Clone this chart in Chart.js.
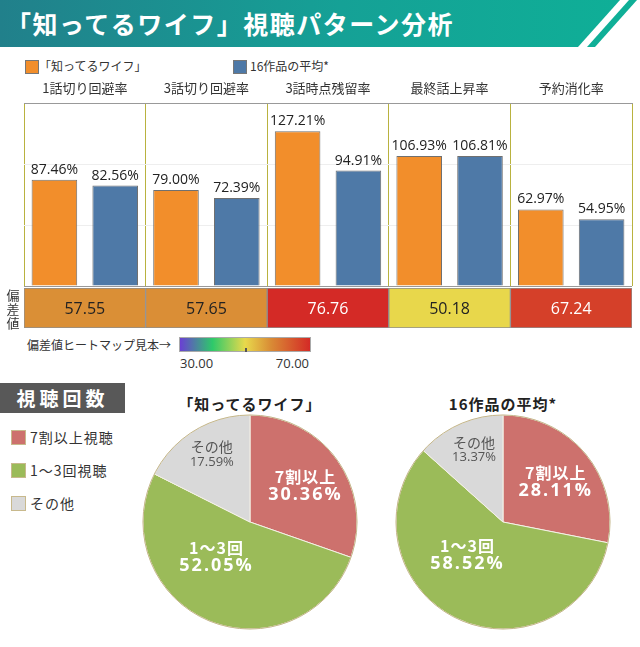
<!DOCTYPE html>
<html lang="ja">
<head>
<meta charset="utf-8">
<title>「知ってるワイフ」視聴パターン分析</title>
<script src="https://cdn.jsdelivr.net/npm/chart.js@4.4.1/dist/chart.umd.min.js"></script>
<style>
  body { margin: 0; background: #fff; font-family: "Noto Sans CJK JP", "Noto Sans", sans-serif; color: #333; }
  #page { position: relative; width: 640px; height: 647px; overflow: hidden; background: #fff; }
  .abs { position: absolute; }
  #banner { left: 0; top: 0; width: 640px; height: 47px; }
  #title { left: 6px; top: 0; line-height: 47px; font-size: 25px; font-weight: bold; color: #fff; letter-spacing: 1.5px; white-space: nowrap; }
  .sw { width: 12px; height: 12px; border: 1px solid #777; }
  .lg { font-size: 12px; line-height: 14px; white-space: nowrap; color: #333; }
  .vert { left: 6px; width: 14px; font-size: 13px; line-height: 14px; text-align: center; color: #333; }
  #heatBar { left: 179px; top: 337px; width: 130px; height: 13px; border: 1px solid #aaa; }
  #heatTick { left: 245px; top: 348px; width: 2px; height: 4px; background: #555; }
  .ht { font-size: 13px; line-height: 14px; color: #333; font-family: "Open Sans", "Noto Sans", sans-serif; }
  #sect { left: 0; top: 383px; width: 125px; height: 30px; background: #585858; color: #fff; font-size: 19px; font-weight: bold; line-height: 30px; text-align: center; letter-spacing: 4px; }
  .psw { width: 13px; height: 13px; border: 1px solid #c8b98c; }
  .plg { font-size: 14px; line-height: 16px; color: #333; white-space: nowrap; letter-spacing: 1px; }
  .ptitle { top: 394px; width: 220px; text-align: center; font-size: 15px; font-weight: bold; color: #222; letter-spacing: 1px; line-height: 20px; }
</style>
</head>
<body>
<div id="page">
  <svg id="banner" class="abs" width="640" height="47">
    <defs>
      <linearGradient id="bg" x1="0" x2="1" y1="0" y2="0">
        <stop offset="0" stop-color="#21808b"/>
        <stop offset="0.55" stop-color="#15a196"/>
        <stop offset="1" stop-color="#0faf97"/>
      </linearGradient>
    </defs>
    <polygon points="0,0 620,0 578,47 0,47" fill="url(#bg)"/>
    <polygon points="629,0 637,0 595,47 587,47" fill="#0faf97"/>
  </svg>
  <div id="title" class="abs">「知ってるワイフ」視聴パターン分析</div>

  <div class="abs sw" style="left:25px;top:60px;background:#f28e2b"></div>
  <div class="abs lg" style="left:39px;top:59px">「知ってるワイフ」</div>
  <div class="abs sw" style="left:233px;top:60px;background:#4e79a7"></div>
  <div class="abs lg" style="left:250px;top:59px">16作品の平均*</div>

  <canvas id="bars" class="abs" width="640" height="216" style="left:0;top:72px"></canvas>
  <canvas id="heat" class="abs" width="640" height="40" style="left:0;top:288px"></canvas>
  <div class="abs vert" style="top:288px">偏<br>差<br>値</div>

  <div class="abs lg" style="left:27px;top:338px;font-size:12px">偏差値ヒートマップ見本→</div>
  <div id="heatBar" class="abs"></div>
  <div id="heatTick" class="abs"></div>
  <div class="abs ht" id="heatMin" style="left:180px;top:356px"></div>
  <div class="abs ht" id="heatMax" style="left:260px;top:356px;width:49px;text-align:right"></div>

  <div id="sect" class="abs">視聴回数</div>
  <div id="pieLegend"></div>

  <div class="abs ptitle" style="left:140px">「知ってるワイフ」</div>
  <div class="abs ptitle" style="left:393px">16作品の平均*</div>
  <canvas id="pieWife" class="abs" width="230" height="230" style="left:135px;top:407px"></canvas>
  <canvas id="pieAvg" class="abs" width="230" height="230" style="left:388px;top:407px"></canvas>
</div>

<script>
const categories = ["1話切り回避率", "3話切り回避率", "3話時点残留率", "最終話上昇率", "予約消化率"];
const wifeRates = [87.46, 79.0, 127.21, 106.93, 62.97];
const avgRates = [82.56, 72.39, 94.91, 106.81, 54.95];
const deviation = [57.55, 57.65, 76.76, 50.18, 67.24];
const heatRange = [30, 70];

const viewLegend = ["7割以上視聴", "1～3回視聴", "その他"];
const sliceNames = ["7割以上", "1～3回", "その他"];
const wifeShare = [30.36, 52.05, 17.59];
const avgShare = [28.11, 58.52, 13.37];

const NUM_FONT = '"Open Sans", "Noto Sans", sans-serif';
const JP_FONT = '"Noto Sans CJK JP", "Noto Sans", sans-serif';
const sliceColors = ["#cd716d", "#9bbb59", "#d9d9d9"];

// colour stops of the deviation heat map (value -> colour)
const heatStops = [
  [30, [106, 63, 211]],
  [40, [46, 201, 106]],
  [50, [232, 217, 76]],
  [58, [217, 139, 53]],
  [70, [212, 42, 38]],
];

function heatColor(v) {
  if (v <= heatStops[0][0]) return "rgb(" + heatStops[0][1].join(",") + ")";
  for (let i = 1; i < heatStops.length; i++) {
    if (v <= heatStops[i][0]) {
      const [v0, c0] = heatStops[i - 1];
      const [v1, c1] = heatStops[i];
      const t = (v - v0) / (v1 - v0);
      const c = c0.map((x, k) => Math.round(x + (c1[k] - x) * t));
      return "rgb(" + c.join(",") + ")";
    }
  }
  return "rgb(" + heatStops[heatStops.length - 1][1].join(",") + ")";
}

// heat legend gradient
const span = heatRange[1] - heatRange[0];
document.getElementById("heatBar").style.background =
  "linear-gradient(90deg," +
  heatStops.map(([v, c]) => "rgb(" + c.join(",") + ") " + ((v - heatRange[0]) / span) * 100 + "%").join(",") +
  ")";
document.getElementById("heatMin").textContent = heatRange[0].toFixed(2);
document.getElementById("heatMax").textContent = heatRange[1].toFixed(2);

// pie legend
const pieLegend = document.getElementById("pieLegend");
viewLegend.forEach((name, i) => {
  const top = 430 + i * 33;
  pieLegend.insertAdjacentHTML(
    "beforeend",
    `<div class="abs psw" style="left:11px;top:${top}px;background:${sliceColors[i]}"></div>` +
      `<div class="abs plg" style="left:30px;top:${top - 1}px">${name}</div>`
  );
});

// value labels above the bars
const barValueLabels = {
  id: "barValueLabels",
  afterDatasetsDraw(chart) {
    const ctx = chart.ctx;
    ctx.save();
    ctx.font = "14px " + NUM_FONT;
    ctx.fillStyle = "#222";
    ctx.textAlign = "center";
    ctx.textBaseline = "bottom";
    chart.data.datasets.forEach((ds, i) => {
      chart.getDatasetMeta(i).data.forEach((bar, j) => {
        ctx.fillText(ds.data[j].toFixed(2) + "%", bar.x, bar.y - 3);
      });
    });
    ctx.restore();
  },
};

new Chart(document.getElementById("bars"), {
  type: "bar",
  data: {
    labels: categories,
    datasets: [
      { label: "「知ってるワイフ」", data: wifeRates, backgroundColor: "#f28e2b" },
      { label: "16作品の平均*", data: avgRates, backgroundColor: "#4e79a7" },
    ],
  },
  options: {
    responsive: false,
    animation: false,
    layout: { padding: { left: 24, right: 8, top: 0, bottom: 2 } },
    datasets: {
      bar: { categoryPercentage: 1, barPercentage: 0.75, borderColor: "#707070", borderWidth: 1 },
    },
    plugins: { legend: { display: false }, tooltip: { enabled: false } },
    scales: {
      x: {
        position: "top",
        grid: { color: "#b9b23f", drawTicks: false, offset: true },
        border: { color: "#999" },
        ticks: { padding: 8, color: "#333", font: { size: 13, family: JP_FONT } },
      },
      y: {
        min: 0,
        max: 150,
        ticks: { display: false, stepSize: 50 },
        grid: {
          drawTicks: false,
          color: (c) => (c.tick.value === 0 || c.tick.value === 150 ? "#999" : "#eeeeee"),
        },
        border: { display: false },
      },
    },
  },
  plugins: [barValueLabels],
});

// deviation cells with their values
const heatValueLabels = {
  id: "heatValueLabels",
  afterDatasetsDraw(chart) {
    const ctx = chart.ctx;
    ctx.save();
    ctx.font = "16px " + NUM_FONT;
    ctx.textAlign = "center";
    ctx.textBaseline = "middle";
    chart.getDatasetMeta(0).data.forEach((cell, j) => {
      ctx.fillStyle = deviation[j] > 60 ? "#fff" : "#222";
      ctx.fillText(deviation[j].toFixed(2), cell.x, (cell.y + cell.base) / 2 + 1);
    });
    ctx.restore();
  },
};

new Chart(document.getElementById("heat"), {
  type: "bar",
  data: {
    labels: categories,
    datasets: [
      {
        data: deviation.map(() => [0, 1]),
        backgroundColor: deviation.map(heatColor),
        borderColor: "#8f8f8f",
        borderWidth: 1,
        borderSkipped: false,
        categoryPercentage: 1,
        barPercentage: 1,
      },
    ],
  },
  options: {
    responsive: false,
    animation: false,
    layout: { padding: { left: 24, right: 8, top: 0, bottom: 0 } },
    plugins: { legend: { display: false }, tooltip: { enabled: false } },
    scales: { x: { display: false }, y: { display: false, min: 0, max: 1 } },
  },
  plugins: [heatValueLabels],
});

// label placement inside each slice: share of the radius, angle nudge (deg)
const slicePlace = [
  { r: 0.62, turn: 2 },
  { r: 0.45, turn: 21 },
  { r: 0.72, turn: 2 },
];

const pieLabels = {
  id: "pieLabels",
  afterDatasetsDraw(chart) {
    const ctx = chart.ctx;
    const shares = chart.data.datasets[0].data;
    const arcs = chart.getDatasetMeta(0).data;
    ctx.save();
    // outer rim
    const a0 = arcs[0];
    ctx.beginPath();
    ctx.arc(a0.x, a0.y, a0.outerRadius, 0, Math.PI * 2);
    ctx.strokeStyle = "#c4b68b";
    ctx.lineWidth = 1;
    ctx.stroke();
    ctx.textAlign = "center";
    ctx.textBaseline = "middle";
    arcs.forEach((arc, i) => {
      const p = slicePlace[i];
      const mid = (arc.startAngle + arc.endAngle) / 2 + (p.turn * Math.PI) / 180;
      const x = arc.x + Math.cos(mid) * arc.outerRadius * p.r;
      const y = arc.y + Math.sin(mid) * arc.outerRadius * p.r;
      const pct = shares[i].toFixed(2) + "%";
      if (i < 2) {
        ctx.fillStyle = "#fff";
        ctx.letterSpacing = "1px";
        ctx.font = "bold 16px " + JP_FONT;
        ctx.fillText(sliceNames[i], x, y - 9);
        ctx.letterSpacing = "2px";
        ctx.font = "bold 18px " + NUM_FONT;
        ctx.fillText(pct, x, y + 9);
      } else {
        ctx.fillStyle = "#555";
        ctx.letterSpacing = "0px";
        ctx.font = "14px " + JP_FONT;
        ctx.fillText(sliceNames[i], x, y - 8);
        ctx.font = "13px " + NUM_FONT;
        ctx.fillText(pct, x, y + 7);
      }
    });
    ctx.restore();
  },
};

function makePie(id, shares) {
  return new Chart(document.getElementById(id), {
    type: "pie",
    data: {
      labels: sliceNames,
      datasets: [{ data: shares, backgroundColor: sliceColors, borderColor: "#f4f1e6", borderWidth: 1 }],
    },
    options: {
      responsive: false,
      animation: false,
      radius: 107,
      plugins: { legend: { display: false }, tooltip: { enabled: false } },
    },
    plugins: [pieLabels],
  });
}

makePie("pieWife", wifeShare);
makePie("pieAvg", avgShare);
</script>
</body>
</html>
